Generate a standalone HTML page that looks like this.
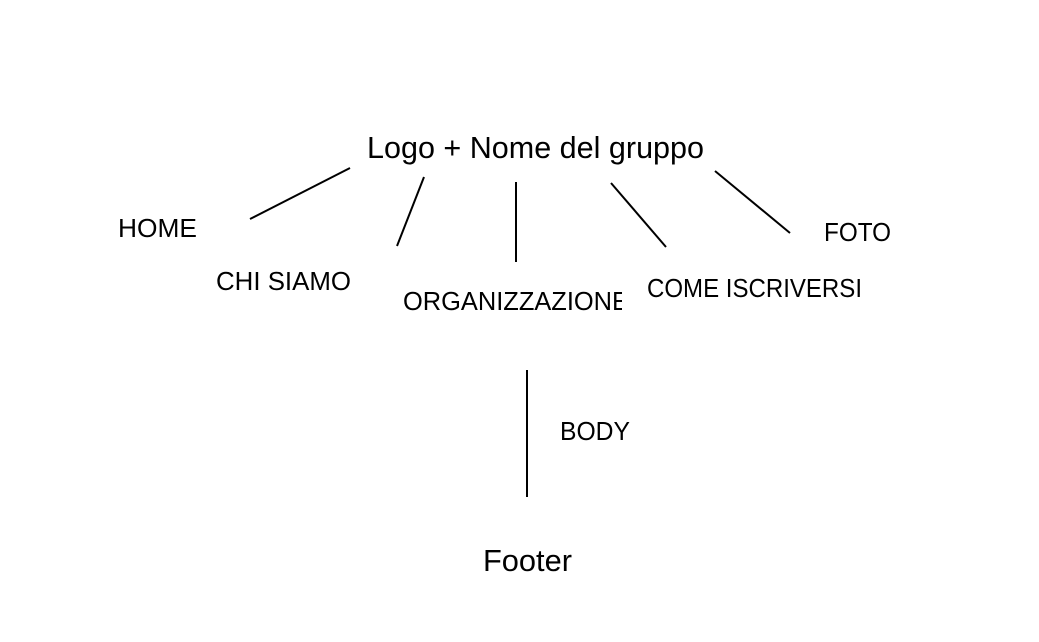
<!DOCTYPE html>
<html><head><meta charset="utf-8"><style>
html,body{margin:0;padding:0;background:#fff;}
svg{display:block}
text{font-family:"Liberation Sans",sans-serif;fill:#000}
</style></head><body>
<svg width="1039" height="642" viewBox="0 0 1039 642" xmlns="http://www.w3.org/2000/svg">
<rect width="1039" height="642" fill="#fff"/>
<g stroke="#000" stroke-width="2" fill="none">
<line x1="250" y1="219" x2="350" y2="168"/>
<line x1="397" y1="246" x2="424" y2="177"/>
<line x1="516" y1="182" x2="516" y2="262"/>
<line x1="611" y1="183" x2="666" y2="247"/>
<line x1="715" y1="171" x2="790" y2="233"/>
<line x1="527" y1="370" x2="527" y2="497"/>
</g>
<text x="367" y="158" font-size="31" textLength="337" lengthAdjust="spacingAndGlyphs">Logo + Nome del gruppo</text>
<text x="118" y="237" font-size="26" textLength="79" lengthAdjust="spacingAndGlyphs">HOME</text>
<text x="216" y="290" font-size="26" textLength="135" lengthAdjust="spacingAndGlyphs">CHI SIAMO</text>
<svg x="0" y="0" width="622" height="642"><text x="403" y="310" font-size="26" textLength="226" lengthAdjust="spacingAndGlyphs">ORGANIZZAZIONE</text></svg>
<text x="647" y="297" font-size="26" textLength="215" lengthAdjust="spacingAndGlyphs">COME ISCRIVERSI</text>
<text x="824" y="241" font-size="26" textLength="67" lengthAdjust="spacingAndGlyphs">FOTO</text>
<text x="560" y="440" font-size="26" textLength="70" lengthAdjust="spacingAndGlyphs">BODY</text>
<text x="483" y="571" font-size="31" textLength="89" lengthAdjust="spacingAndGlyphs">Footer</text>
</svg>
</body></html>
